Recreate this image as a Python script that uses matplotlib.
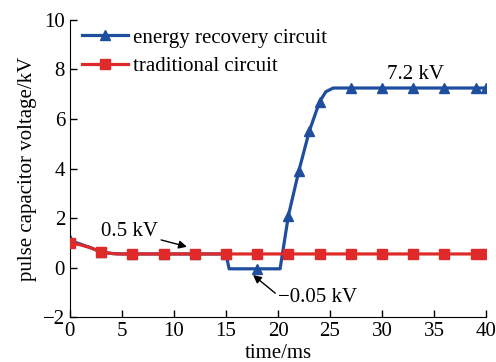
import matplotlib
matplotlib.use("Agg")
import matplotlib.pyplot as plt

plt.rcParams['font.family'] = ['Liberation Serif', 'DejaVu Serif']
plt.rcParams['mathtext.fontset'] = 'stix'

# Data
t_energy = [0, 1, 2, 3, 4, 5, 6, 9, 12, 15, 15.3, 18, 20.2, 21, 22, 23, 24, 24.6, 25.3, 27, 30, 33, 36, 39, 40]
v_energy = [1.1, 0.95, 0.8, 0.63, 0.57, 0.55, 0.55, 0.55, 0.55, 0.55, -0.05, -0.05, -0.05,
            2.1, 3.9, 5.5, 6.7, 7.1, 7.25, 7.25, 7.25, 7.25, 7.25, 7.25, 7.25]
mark_energy = [0, 3, 6, 7, 8, 9, 11, 13, 14, 15, 16, 19, 20, 21, 22, 23, 24]

t_trad = [0, 1, 2, 3, 4, 4.5, 6, 9, 12, 15, 18, 21, 24, 27, 30, 33, 36, 39, 40]
v_trad = [1.0, 0.92, 0.8, 0.63, 0.57, 0.55, 0.55, 0.55, 0.55, 0.55, 0.55, 0.55, 0.55,
          0.55, 0.55, 0.55, 0.55, 0.55, 0.55]
mark_trad = [0, 3] + list(range(6, 19))

x_ticks = [0, 5, 10, 15, 20, 25, 30, 35, 40]
y_ticks = [-2, 0, 2, 4, 6, 8, 10]

blue = '#1f4e9e'
red = '#e02a2a'

fig = plt.figure(figsize=(4.96, 3.62), dpi=100)
ax = fig.add_axes([0.141, 0.124, 0.839, 0.821])

ax.plot(t_energy, v_energy, color=blue, lw=2.3, marker='^', ms=7.5,
        markevery=mark_energy, label='energy recovery circuit', zorder=2)
ax.plot(t_trad, v_trad, color=red, lw=2.3, marker='s', ms=7,
        markevery=mark_trad, label='traditional circuit', zorder=3)

ax.set_xlim(0, 40)
ax.set_ylim(-2, 10)
ax.set_xticks(x_ticks)
ax.set_yticks(y_ticks)
ax.set_yticklabels([str(v).replace('-', '\u2212') for v in y_ticks])
ax.tick_params(direction='in', labelsize=15, length=5, width=1)
ax.spines['top'].set_visible(False)
ax.spines['right'].set_visible(False)
ax.set_xlabel('time/ms', fontsize=15, labelpad=2)
ax.set_ylabel('pulse capacitor voltage/kV', fontsize=15, labelpad=4)

ax.annotate('0.5 kV', xy=(11.25, 0.84), xytext=(8.5, 1.45), fontsize=15,
            ha='right', va='center',
            arrowprops=dict(arrowstyle='-|>', color='black', lw=1, mutation_scale=12, shrinkA=0, shrinkB=0))
ax.annotate('\u22120.05 kV', xy=(17.6, -0.3), xytext=(20.0, -1.2), fontsize=15,
            ha='left', va='center',
            arrowprops=dict(arrowstyle='-|>', color='black', lw=1, mutation_scale=12, shrinkA=0, shrinkB=0,
                            relpos=(0, 0.6)))
ax.text(33.2, 7.8, '7.2 kV', fontsize=15, ha='center', va='center')

ax.legend(loc='upper left', fontsize=15, frameon=False, handlelength=2.2,
          handletextpad=0.25, borderaxespad=0.2, labelspacing=0.45,
          bbox_to_anchor=(0.0, 1.015))

fig.savefig('out.png', dpi=100)
